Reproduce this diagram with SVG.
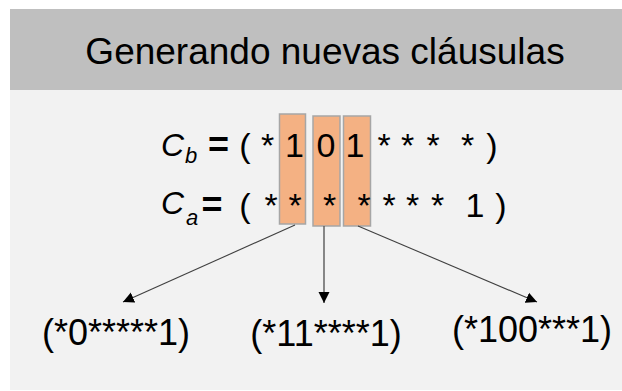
<svg xmlns="http://www.w3.org/2000/svg" width="622" height="391" viewBox="0 0 622 391">
<style>
text{font-family:"Liberation Sans",Arial,sans-serif;fill:#000}
.t{font-size:34px;text-anchor:middle}
.it{font-style:italic}
.b{font-weight:bold}
.box{fill:#f4b183;stroke:#a6a6a6;stroke-width:1.5}
.res{font-size:36px;text-anchor:middle}
.con line{stroke:#404040;stroke-width:1.1}
</style>
<defs>
<marker id="ah" markerUnits="userSpaceOnUse" markerWidth="12" markerHeight="12" viewBox="0 0 12 12" refX="11" refY="6" orient="auto">
<path d="M0,0.5 L11,6 L0,11.5 Z" fill="#000"/>
</marker>
</defs>
<rect x="0" y="0" width="622" height="391" fill="#ffffff"/>
<rect x="10" y="9" width="612" height="81" fill="#bfbfbf"/>
<rect x="10" y="90" width="612" height="300" fill="#f2f2f2"/>
<g id="title"><text x="325" y="64" style="font-size:37px;text-anchor:middle">Generando nuevas cláusulas</text></g>
<g id="boxes">
<rect class="box" x="279.5" y="114" width="26" height="110"/>
<rect class="box" x="313" y="116" width="27" height="110"/>
<rect class="box" x="343.5" y="116" width="27" height="110"/>
</g>
<g id="row-cb">
<text x="161" y="156" class="it" style="font-size:32px">C</text>
<text x="185" y="163" class="it" style="font-size:22px">b</text>
<text class="t b" x="218.5" y="157" style="font-size:36px">=</text>
<text class="t" x="245" y="157">(</text>
<text class="t" x="267.5" y="157">*</text>
<text class="t" x="294.5" y="157">1</text>
<text class="t" x="326" y="157">0</text>
<text class="t" x="355" y="157">1</text>
<text class="t" x="384" y="157">*</text>
<text class="t" x="407.5" y="157">*</text>
<text class="t" x="433" y="157">*</text>
<text class="t" x="467.5" y="157">*</text>
<text class="t" x="492" y="157">)</text>
</g>
<g id="row-ca">
<text x="161" y="214" class="it" style="font-size:32px">C</text>
<text x="186" y="225" class="it" style="font-size:22px">a</text>
<text class="t b" x="212" y="217" style="font-size:36px">=</text>
<text class="t" x="245" y="217">(</text>
<text class="t" x="271" y="217">*</text>
<text class="t" x="295" y="217">*</text>
<text class="t" x="329.5" y="217">*</text>
<text class="t" x="364" y="217">*</text>
<text class="t" x="389" y="217">*</text>
<text class="t" x="412.5" y="217">*</text>
<text class="t" x="437.5" y="217">*</text>
<text class="t" x="475" y="217">1</text>
<text class="t" x="501" y="217">)</text>
</g>
<g class="con" id="connectors">
<line x1="295" y1="225" x2="123" y2="302" marker-end="url(#ah)"/>
<line x1="324" y1="226" x2="324" y2="303" marker-end="url(#ah)" style="stroke:#595959;stroke-width:1.4"/>
<line x1="358" y1="226" x2="537" y2="302" marker-end="url(#ah)"/>
</g>
<g id="res1"><text class="res" x="116" y="345">(*0*****1)</text></g>
<g id="res2"><text class="res" x="326" y="346">(*11****1)</text></g>
<g id="res3"><text class="res" x="532" y="342">(*100***1)</text></g>
</svg>
